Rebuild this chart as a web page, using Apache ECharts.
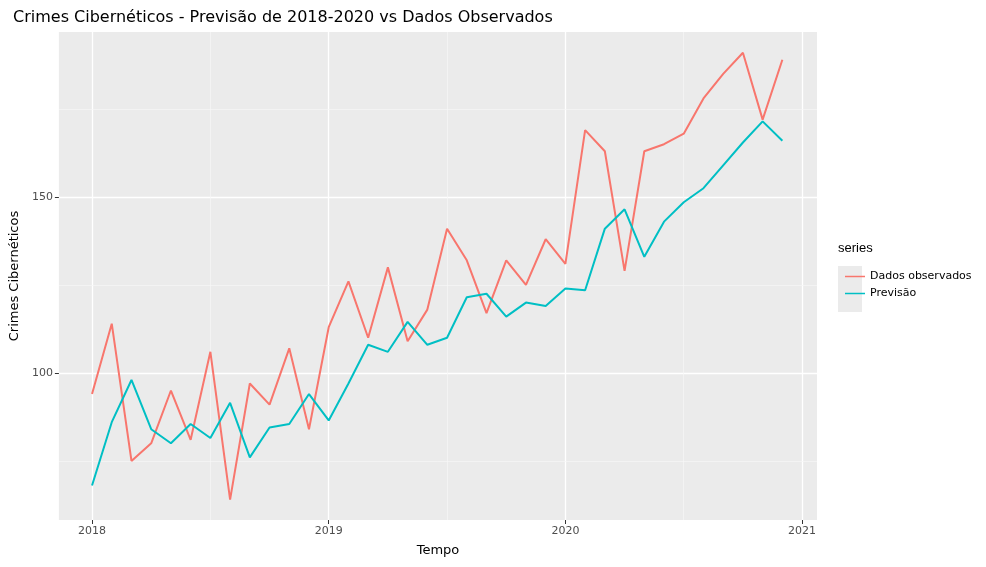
<!DOCTYPE html>
<html>
<head>
<meta charset="utf-8">
<script src="https://cdn.jsdelivr.net/npm/echarts@6/dist/echarts.min.js"></script>
<style>html,body{margin:0;padding:0;background:#fff}#main{width:986px;height:567px}</style>
</head>
<body>
<div id="main"></div>
<script>
// months 2018-01 .. 2020-12
const months = [];
for (let y = 2018; y <= 2020; y++) for (let m = 0; m < 12; m++) months.push(y + m / 12);

const observed = [94, 114, 75, 80, 95, 81, 106, 64, 97, 91, 107, 84,
  113, 126, 110, 130, 109, 118, 141, 132, 117, 132, 125, 138,
  131, 169, 163, 129, 163, 165, 168, 178, 185, 191, 172, 189];
const forecast = [68, 86, 98, 84, 80, 85.5, 81.5, 91.5, 76, 84.5, 85.5, 94,
  86.5, 97, 108, 106, 114.5, 108, 110, 121.5, 122.5, 116, 120, 119,
  124, 123.5, 141, 146.5, 133, 143, 148.5, 152.5, 159, 165.5, 171.5, 166];
const xTicks = [2018, 2019, 2020, 2021];
const xMinor = [2018.5, 2019.5, 2020.5];
const yTicks = [100, 150];
const yMinor = [75, 125, 175];

const pair = arr => arr.map((v, i) => [months[i], v]);
const minorLines = [
  ...xMinor.map(v => ({ xAxis: v })),
  ...yMinor.map(v => ({ yAxis: v }))
];

const chart = echarts.init(document.getElementById('main'));
chart.setOption({
  animation: false,
  textStyle: { fontFamily: 'DejaVu Sans, sans-serif' },
  title: {
    text: 'Crimes Cibernéticos - Previsão de 2018-2020 vs Dados Observados',
    left: 8, top: 5,
    textStyle: { fontSize: 16, fontWeight: 'normal', color: '#000' }
  },
  grid: {
    left: 51, top: 32, right: 169, bottom: 47,
    show: true, backgroundColor: '#EBEBEB', borderWidth: 0
  },
  legend: {
    orient: 'vertical', left: 840, top: 266, itemGap: 6,
    itemWidth: 20, itemHeight: 17, icon: 'path://M0,8 L20,8 L20,9.5 L0,9.5 Z',
    textStyle: { fontSize: 11, color: '#000' },
    data: ['Dados observados', 'Previsão']
  },
  graphic: [
    { type: 'text', left: 838, top: 242, style: { text: 'series', fontSize: 13, fill: '#000' } },
    { type: 'rect', left: 838, top: 266, shape: { width: 24, height: 46 }, style: { fill: '#EBEBEB' }, z: -1 }
  ],
  xAxis: {
    type: 'value', min: 2017.86, max: 2021.063,
    name: 'Tempo', nameLocation: 'middle', nameGap: 24,
    nameTextStyle: { fontSize: 13, color: '#000' },
    axisLine: { show: false },
    axisTick: { show: true, customValues: xTicks, length: 4, lineStyle: { color: '#333' } },
    axisLabel: { customValues: xTicks, fontSize: 11, color: '#4D4D4D', margin: 6, formatter: v => String(v) },
    splitLine: { show: true, lineStyle: { color: '#fff', width: 1.3 } }
  },
  yAxis: {
    type: 'value', min: 58.2, max: 196.9,
    name: 'Crimes Cibernéticos', nameLocation: 'middle', nameGap: 34,
    nameTextStyle: { fontSize: 13, color: '#000' },
    axisLine: { show: false },
    axisTick: { show: true, customValues: yTicks, length: 4, lineStyle: { color: '#333' } },
    axisLabel: { customValues: yTicks, fontSize: 11, color: '#4D4D4D', margin: 6, formatter: v => String(v) },
    splitLine: { show: true, lineStyle: { color: '#fff', width: 1.3 } }
  },
  series: [
    {
      name: 'Dados observados', type: 'line', data: pair(observed),
      showSymbol: false, lineStyle: { color: '#F8766D', width: 2 }, itemStyle: { color: '#F8766D' },
      z: 3,
      markLine: {
        silent: true, symbol: 'none', label: { show: false },
        lineStyle: { color: '#F7F7F7', width: 0.7, type: 'solid' },
        data: minorLines, z: 1
      }
    },
    {
      name: 'Previsão', type: 'line', data: pair(forecast),
      showSymbol: false, lineStyle: { color: '#00BFC4', width: 2 }, itemStyle: { color: '#00BFC4' },
      z: 4
    }
  ]
});
</script>
</body>
</html>
